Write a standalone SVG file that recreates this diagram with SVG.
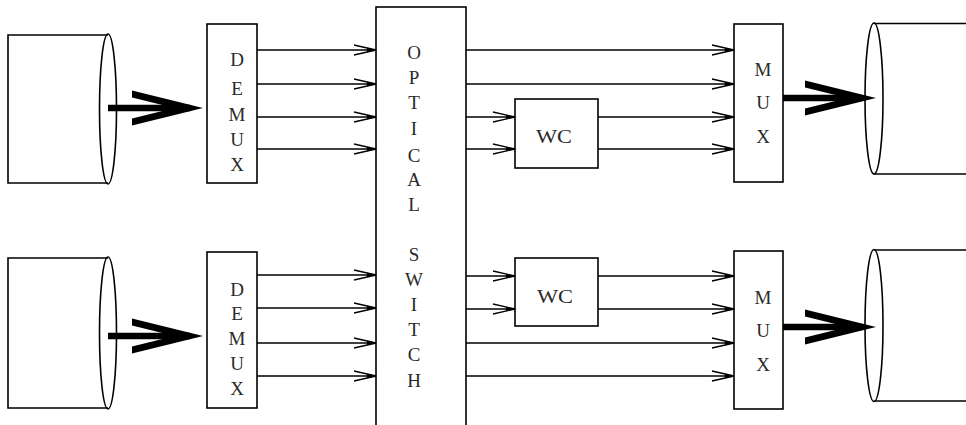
<svg xmlns="http://www.w3.org/2000/svg" width="966" height="425" viewBox="0 0 966 425">
<style>
.box{fill:#fff;stroke:#000;stroke-width:1.6}
.ln{fill:none;stroke:#000;stroke-width:1.5}
.cyl{fill:none;stroke:#000;stroke-width:1.6}
.shaft{fill:none;stroke:#000;stroke-width:6.5}
.lbl{font-family:"Liberation Serif","Times New Roman",serif;font-size:19px;fill:#2a2a2a;text-anchor:middle}
</style>
<defs>
<marker id="arr" markerUnits="userSpaceOnUse" markerWidth="24" markerHeight="12" refX="22" refY="5" orient="auto" overflow="visible">
<path d="M0,0 L22,5 L0,10" fill="none" stroke="#000" stroke-width="1.4"/>
<path d="M13,2.8 L22,5 L13,7.2 Z" fill="#000"/>
</marker>
<path id="chev" d="M-71,-17.5 L0,0 L-71,17.5 L-71,10.5 L-28.4,0 L-71,-10.5 Z" fill="#000"/>
</defs>
<rect width="966" height="425" fill="#fff"/>

<g id="fiber-in-top">
<path class="cyl" d="M108,35 H8 V183 H108"/>
<ellipse class="cyl" cx="108" cy="109" rx="8.5" ry="75"/>
</g>
<g id="fiber-in-bottom">
<path class="cyl" d="M108,258 H8 V408 H108"/>
<ellipse class="cyl" cx="108" cy="333" rx="8.5" ry="76"/>
</g>
<g id="fiber-out-top">
<path class="cyl" d="M874,23.5 H966 M874,174 H966"/>
<ellipse class="cyl" cx="874" cy="98.5" rx="9" ry="75.5"/>
</g>
<g id="fiber-out-bottom">
<path class="cyl" d="M874,250 H966 M874,401 H966"/>
<ellipse class="cyl" cx="874" cy="325.5" rx="9" ry="76"/>
</g>

<g id="demux-top">
<rect class="box" x="207" y="24" width="50" height="159"/>
<text class="lbl" x="237" y="66">D</text>
<text class="lbl" x="237" y="95">E</text>
<text class="lbl" x="237" y="121">M</text>
<text class="lbl" x="237" y="146">U</text>
<text class="lbl" x="237" y="171">X</text>
</g>
<g id="demux-bottom">
<rect class="box" x="207" y="252" width="50" height="156"/>
<text class="lbl" x="237" y="296">D</text>
<text class="lbl" x="237" y="320">E</text>
<text class="lbl" x="237" y="345">M</text>
<text class="lbl" x="237" y="370">U</text>
<text class="lbl" x="237" y="395">X</text>
</g>

<g id="optical-switch">
<rect class="box" x="376" y="7" width="90" height="430"/>
<text class="lbl" x="414" y="59">O</text>
<text class="lbl" x="414" y="84">P</text>
<text class="lbl" x="414" y="109">T</text>
<text class="lbl" x="414" y="135">I</text>
<text class="lbl" x="414" y="162">C</text>
<text class="lbl" x="414" y="186">A</text>
<text class="lbl" x="414" y="211">L</text>
<text class="lbl" x="414" y="261">S</text>
<text class="lbl" x="414" y="286">W</text>
<text class="lbl" x="414" y="311">I</text>
<text class="lbl" x="414" y="336">T</text>
<text class="lbl" x="414" y="361">C</text>
<text class="lbl" x="414" y="387">H</text>
</g>

<g id="wc-top">
<rect class="box" x="515" y="99" width="83" height="69"/>
<text class="lbl" x="554" y="143" textLength="36" lengthAdjust="spacingAndGlyphs">WC</text>
</g>
<g id="wc-bottom">
<rect class="box" x="515" y="258" width="83" height="68"/>
<text class="lbl" x="555" y="303" textLength="36" lengthAdjust="spacingAndGlyphs">WC</text>
</g>

<g id="mux-top">
<rect class="box" x="734" y="24" width="49" height="158"/>
<text class="lbl" x="763" y="76">M</text>
<text class="lbl" x="763" y="109">U</text>
<text class="lbl" x="763" y="143">X</text>
</g>
<g id="mux-bottom">
<rect class="box" x="734" y="251" width="49" height="158"/>
<text class="lbl" x="763" y="304">M</text>
<text class="lbl" x="763" y="337">U</text>
<text class="lbl" x="763" y="371">X</text>
</g>

<g id="connectors">
<!-- thick fiber arrows -->
<path class="shaft" d="M108,108 H190"/>
<use href="#chev" transform="translate(203,108)"/>
<path class="shaft" d="M108,336 H190"/>
<use href="#chev" transform="translate(203,336)"/>
<path class="shaft" d="M783,98 H862"/>
<use href="#chev" transform="translate(876,98)"/>
<path class="shaft" d="M783,327 H862"/>
<use href="#chev" transform="translate(876,327)"/>

<!-- demux to switch, top -->
<path class="ln" d="M257,50 H376" marker-end="url(#arr)"/>
<path class="ln" d="M257,84 H376" marker-end="url(#arr)"/>
<path class="ln" d="M257,117 H376" marker-end="url(#arr)"/>
<path class="ln" d="M257,149 H376" marker-end="url(#arr)"/>
<!-- demux to switch, bottom -->
<path class="ln" d="M257,275 H376" marker-end="url(#arr)"/>
<path class="ln" d="M257,308 H376" marker-end="url(#arr)"/>
<path class="ln" d="M257,343 H376" marker-end="url(#arr)"/>
<path class="ln" d="M257,376 H376" marker-end="url(#arr)"/>

<!-- switch outputs, top -->
<path class="ln" d="M466,50 H734" marker-end="url(#arr)"/>
<path class="ln" d="M466,84 H734" marker-end="url(#arr)"/>
<path class="ln" d="M466,117 H515" marker-end="url(#arr)"/>
<path class="ln" d="M466,149 H515" marker-end="url(#arr)"/>
<path class="ln" d="M598,117 H734" marker-end="url(#arr)"/>
<path class="ln" d="M598,149 H734" marker-end="url(#arr)"/>

<!-- switch outputs, bottom -->
<path class="ln" d="M466,276 H515" marker-end="url(#arr)"/>
<path class="ln" d="M466,309 H515" marker-end="url(#arr)"/>
<path class="ln" d="M598,276 H734" marker-end="url(#arr)"/>
<path class="ln" d="M598,309 H734" marker-end="url(#arr)"/>
<path class="ln" d="M466,343 H734" marker-end="url(#arr)"/>
<path class="ln" d="M466,376 H734" marker-end="url(#arr)"/>
</g>
</svg>
